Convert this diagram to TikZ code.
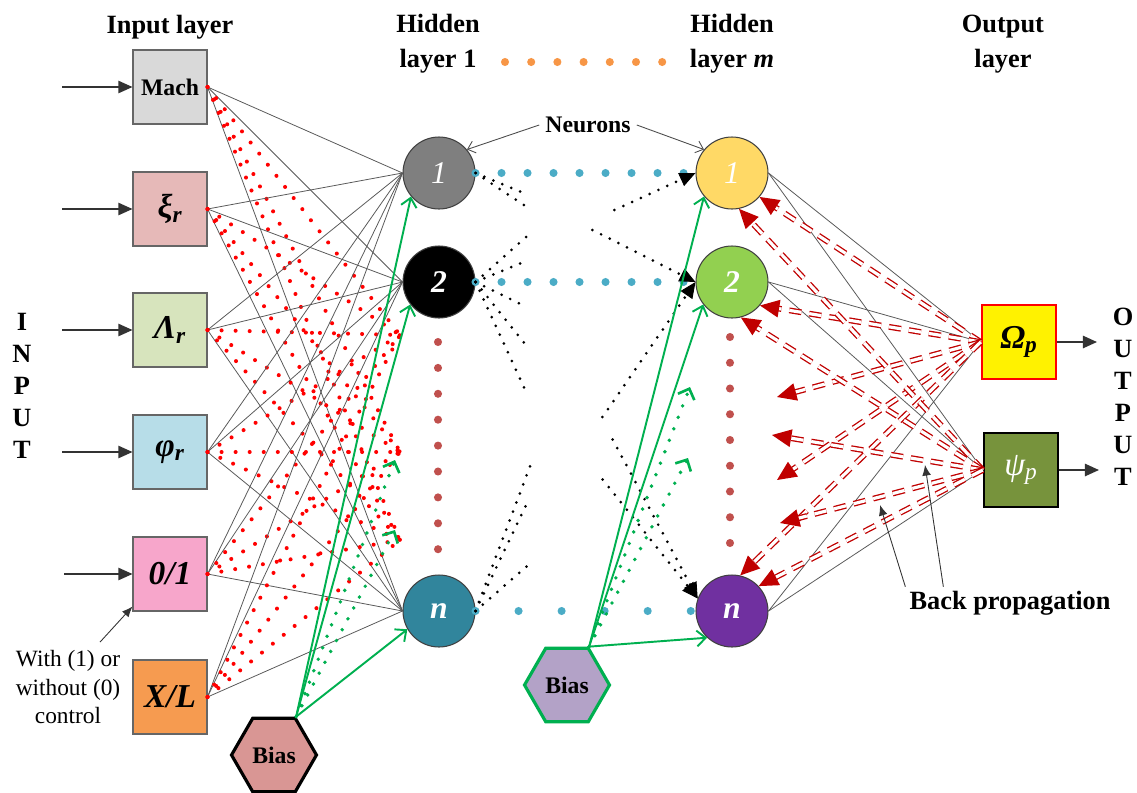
\documentclass[tikz,border=0pt]{standalone}
\usepackage{fontspec}
\setmainfont{Liberation Serif}
\usepackage{tikz}
\usetikzlibrary{calc, positioning, arrows.meta, shapes.geometric}
\usepackage{xcolor}
\definecolor{boxMach}{RGB}{217, 217, 217}
\definecolor{boxXi}{RGB}{230, 185, 184}
\definecolor{boxLam}{RGB}{215, 228, 189}
\definecolor{boxPhi}{RGB}{183, 221, 232}
\definecolor{boxCtl}{RGB}{247, 166, 203}
\definecolor{boxXL}{RGB}{246, 155, 80}
\definecolor{nGray}{RGB}{127, 127, 127}
\definecolor{nTeal}{RGB}{49, 133, 156}
\definecolor{nGold}{RGB}{255, 217, 102}
\definecolor{nGreen}{RGB}{146, 208, 80}
\definecolor{nPurple}{RGB}{112, 48, 160}
\definecolor{outOlive}{RGB}{119, 147, 60}
\definecolor{biasRose}{RGB}{217, 150, 148}
\definecolor{biasLav}{RGB}{179, 162, 199}
\definecolor{biasGreen}{RGB}{0, 176, 80}
\definecolor{bpRed}{RGB}{192, 0, 0}
\definecolor{dotBlue}{RGB}{75, 172, 198}
\definecolor{dotBrown}{RGB}{192, 80, 77}
\definecolor{dotOrange}{RGB}{247, 150, 70}

\begin{document}
\begin{tikzpicture}[x=0.02cm, y=-0.02cm,
  inbox/.style={draw=black!60, line width=0.6pt, minimum size=1.48cm, inner sep=0pt,
    font=\fontsize{19}{19}\selectfont\bfseries\itshape},
  neuron/.style={circle, draw=black!75, line width=0.6pt, minimum size=1.44cm, inner sep=0pt,
    text=white, font=\fontsize{18}{18}\selectfont\bfseries\itshape},
  bias/.style={regular polygon, regular polygon sides=6, minimum size=1.7cm, inner sep=0pt,
    line width=1.8pt, font=\fontsize{13.5}{14}\selectfont\bfseries},
  head/.style={align=center, font=\fontsize{15}{20}\selectfont\bfseries},
  wire/.style={draw=black!65, line width=0.45pt},
  reddots/.style={draw=red, line width=2.3pt, line cap=round, dash pattern=on 0pt off 8pt},
  blackdots/.style={draw=black, line width=1.7pt, line cap=round, dash pattern=on 0pt off 5.5pt},
  greendots/.style={draw=biasGreen, line width=2.2pt, line cap=round, dash pattern=on 0pt off 7pt,
    -{Straight Barb[length=5pt, width=10pt, line width=1.5pt]}},
  bluedots/.style={draw=dotBlue, line width=4.6pt, line cap=round, dash pattern=on 0pt off 14.8pt},
  biasarrow/.style={draw=biasGreen, line width=1.1pt, -{Straight Barb[length=5pt, width=9pt]}},
  backprop/.style={draw=bpRed, line width=0.75pt, double=white, double distance=1.8pt,
    dash pattern=on 7pt off 4.5pt, -{Triangle[length=11pt, width=10pt]}},
  inarrow/.style={draw=black!80, line width=0.8pt, -{Triangle[length=8pt, width=7pt]}},
  thinarrow/.style={draw=black!70, line width=0.5pt, -{Straight Barb[length=4pt, width=7pt]}},
  tiparrow/.style={draw=black!80, line width=0.5pt, -{Latex[length=6pt, width=5pt]}}
]
  \useasboundingbox (0,0) rectangle (1137,792);

  % --- headings ---
  \node[head] (tIn) at (170,27) {Input layer};
  \node[head] (tH1) at (438,44) {Hidden\\layer 1};
  \node[head] (tHm) at (732,44) {Hidden\\layer \textit{m}};
  \node[head] (tOut) at (1003,44) {Output\\layer};
  \foreach \i in {0,...,6}
    \fill[dotOrange] (505+26.2*\i,62) circle (2.3pt);
  \node[font=\fontsize{15}{18.2}\selectfont\bfseries, align=center] (tI) at (22,386) {I\\N\\P\\U\\T};
  \node[font=\fontsize{15}{18.2}\selectfont\bfseries, align=center] (tO) at (1123,397) {O\\U\\T\\P\\U\\T};

  % --- input layer ---
  \node[inbox, fill=boxMach] (in1) at (170,87) {\fontsize{13.5}{14}\selectfont\upshape Mach};
  \node[inbox, fill=boxXi] (in2) at (170,209) {ξ\textsubscript{r}};
  \node[inbox, fill=boxLam] (in3) at (170,330) {Λ\textsubscript{r}};
  \node[inbox, fill=boxPhi] (in4) at (170,452) {φ\textsubscript{r}};
  \node[inbox, fill=boxCtl] (in5) at (170,574) {0/1};
  \node[inbox, fill=boxXL] (in6) at (170,697) {X/L};
  \foreach \n/\x/\y in {1/62/87, 2/62/209, 3/62/330, 4/62/452, 5/64/574} {
    \coordinate (src\n) at (\x,\y);
    \draw[inarrow] (src\n) -- (in\n.west);
  }
  \node[align=center, font=\fontsize{13.3}{16.2}\selectfont] (ctl) at (68,687) {With (1) or\\without (0)\\control};
  \draw[tiparrow] ($(ctl.north)+(32,-2)$) -- ($(in5.south west)+(0,-5)$);

  % --- hidden layers ---
  \node[neuron, fill=nGray, font=\fontsize{18}{18}\selectfont\itshape] (h11) at (439,173) {1};
  \node[neuron, fill=black] (h12) at (439,282) {2};
  \node[neuron, fill=nTeal] (h1n) at (439,611) {n};
  \node[neuron, fill=nGold, font=\fontsize{18}{18}\selectfont\itshape] (hm1) at (732,173) {1};
  \node[neuron, fill=nGreen] (hm2) at (732,282) {2};
  \node[neuron, fill=nPurple] (hmn) at (732,611) {n};
  \foreach \k in {0,...,8} {
    \fill[dotBrown] (438,342+25.9*\k) circle (2.3pt);
    \fill[dotBrown] (730,337+25.75*\k) circle (2.3pt);
  }
  \node[font=\fontsize{13.5}{14}\selectfont\bfseries] (neur) at (588,125) {Neurons};
  \draw[thinarrow] (neur.west) -- (h11.40);
  \draw[thinarrow] (neur.east) -- (hm1.140);

  % hidden neurons between 2 and n
  \coordinate (hA) at (400,335);
  \coordinate (hB) at (400,452);
  \coordinate (hC) at (400,540);

  % --- output layer ---
  \node[inbox, fill=yellow, draw=red, line width=1.4pt] (out1) at (1019,342) {Ω\textsubscript{p}};
  \node[inbox, fill=outOlive, draw=black, line width=1.4pt, text=white,
    font=\fontsize{19}{19}\selectfont\itshape] (out2) at (1021,470) {ψ\textsubscript{p}};
  \coordinate (o1) at (1097,342);
  \coordinate (o2) at (1099,470);
  \draw[inarrow, line width=1pt] (out1.east) -- (o1);
  \draw[inarrow, line width=1pt] (out2.east) -- (o2);

  % --- bias ---
  \node[bias, fill=biasRose, draw=black] (b1) at (274,755) {Bias};
  \node[bias, fill=biasLav, draw=biasGreen] (b2) at (567,685) {Bias};

  % --- input to hidden layer 1 ---
  \foreach \i in {1,...,6} {
    \foreach \j in {h11,h12,h1n}
      \draw[wire] (in\i.east) -- (\j.west);
    \foreach \t in {hA,hB,hC}
      \draw[reddots] (in\i.east) -- (\t);
  }

  % --- hidden 1 to hidden m ---
  \draw[bluedots] (h11.east) -- (hm1.west);
  \draw[bluedots] (h12.east) -- (hm2.west);
  \draw[bluedots, dash pattern=on 0pt off 24.5pt] (h1n.east) -- (hmn.west);
  \foreach \s/\dx/\dy in {h11/48/20, h11/53/35, h12/55/-49, h12/48/-20, h12/47/23,
      h12/52/65, h12/52/113, h1n/55/-146, h1n/53/-111, h1n/55/-48}
    \draw[blackdots] (\s.east) -- ++(\dx,\dy);
  \foreach \t/\dx/\dy in {hm1.west/-81/37, hm2.west/-103/-52, hm2.west/-93/135,
      hmn.160/-85/-159, hmn.160/-95/-119}
    \draw[blackdots, -{Triangle[length=9pt, width=8pt, line width=0.5pt]}] ($(\t)+(\dx,\dy)$) -- (\t);

  % --- bias connections ---
  \coordinate (gA) at (395,460);
  \coordinate (gB) at (395,530);
  \coordinate (gC) at (690,387);
  \coordinate (gD) at (688,458);
  \foreach \t/\a in {h11/220, h12/218, h1n/210}
    \draw[biasarrow] (b1.60) -- (\t.\a);
  \foreach \t/\a in {hm1/220, hm2/218, hmn/227}
    \draw[biasarrow] (b2.60) -- (\t.\a);
  \draw[greendots] (b1.60) -- (gA);
  \draw[greendots] (b1.60) -- (gB);
  \draw[greendots] (b2.60) -- (gC);
  \draw[greendots] (b2.60) -- (gD);

  % --- hidden m to output ---
  \foreach \j in {hm1,hm2,hmn}
    \foreach \o in {out1,out2}
      \draw[wire] (\j.east) -- (\o.west);

  % --- back propagation ---
  \coordinate (bp1) at (777,397);
  \coordinate (bp2) at (772,435);
  \coordinate (bp3) at (777,480);
  \coordinate (bp4) at (780,523);
  \foreach \e in {hm1.-41, hm2.-40, bp1, bp3, hmn.77}
    \draw[backprop] (out1.west) -- (\e);
  \foreach \e in {hm1.-79, hm2.-76, bp2, bp4, hmn.43}
    \draw[backprop] (out2.west) -- (\e);
  \node[font=\fontsize{15}{18}\selectfont\bfseries] (bpl) at (1010,603) {Back propagation};
  \coordinate (bpA) at (880,505);
  \coordinate (bpB) at (925,465);
  \draw[tiparrow] ($(bpl.north west)+(2,2)$) -- (bpA);
  \draw[tiparrow] ($(bpl.north west)+(40,2)$) -- (bpB);
\end{tikzpicture}
\end{document}
